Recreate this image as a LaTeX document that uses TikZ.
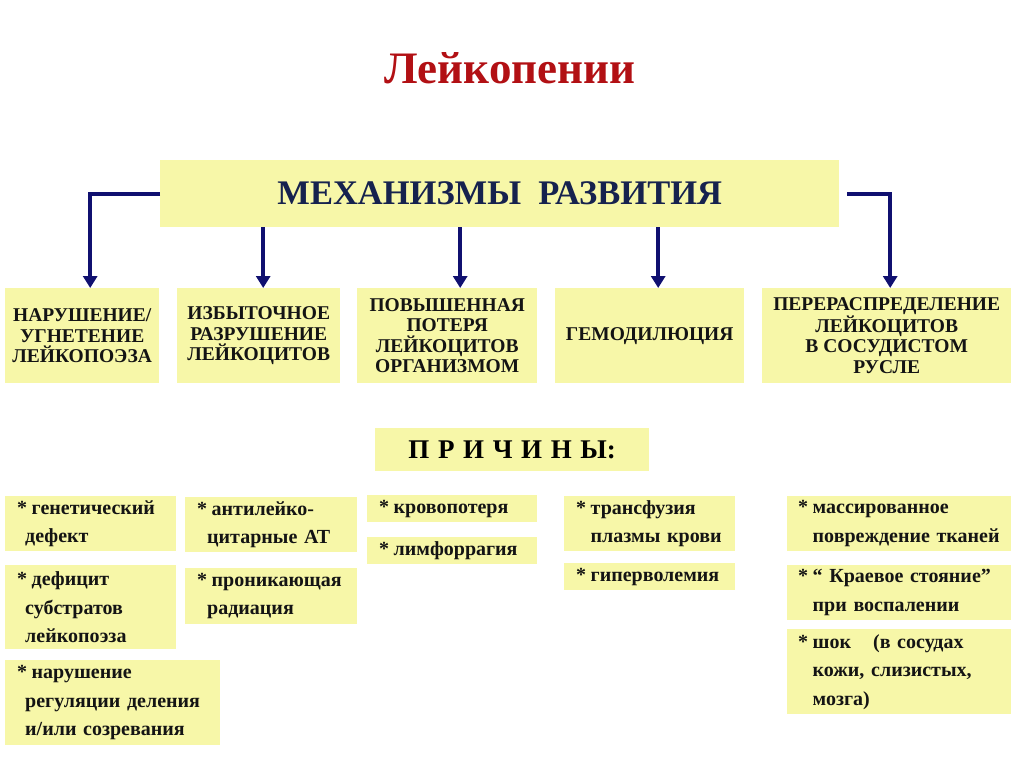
\documentclass[tikz,border=0pt]{standalone}
\usepackage{fontspec}
\setmainfont{Liberation Serif}
\usetikzlibrary{arrows.meta}
\definecolor{boxfill}{RGB}{247,247,168}
\definecolor{navy}{RGB}{16,16,112}
\definecolor{headtext}{RGB}{22,34,78}
\definecolor{titlered}{RGB}{178,16,20}
\definecolor{txt}{RGB}{20,20,20}
\tikzset{
  box/.style={fill=boxfill, draw=none, inner sep=0pt, anchor=north west},
  mech/.style={box, align=center, text=txt,
    font=\fontsize{19.5}{20.5}\selectfont\bfseries},
  cause/.style={box, align=left, text=txt, inner xsep=12pt,
    font=\fontsize{20}{28.5}\selectfont\bfseries},
  arr/.style={draw=navy, line width=4.2pt,
    -{Triangle[width=14pt,length=12pt]}},
}
\newcommand{\st}{*\hspace{4.5pt}}
\newcommand{\ind}{\phantom{*}\hspace{4.5pt}}
\newcommand{\indA}{\hspace{8pt}}
\newcommand{\indB}{\hspace{10pt}}
\newcommand{\ls}{\hspace{8.6pt}}
\begin{document}
\begin{tikzpicture}[x=1pt,y=-1pt]
\useasboundingbox[fill=white] (0,0) rectangle (1024,767);

\node[text=titlered, font=\fontsize{45}{45}\selectfont\bfseries] (title) at (510,68) {Лейкопении};

\node[box, minimum width=679pt, minimum height=67pt, text=headtext,
  font=\fontsize{34.5}{34.5}\selectfont\bfseries] (main) at (160,160) {МЕХАНИЗМЫ\ \ РАЗВИТИЯ};

% mechanism boxes
\node[mech, minimum width=154pt, minimum height=95pt] (m1) at (5,288)
  {НАРУШЕНИЕ/\\УГНЕТЕНИЕ\\ЛЕЙКОПОЭЗА};
\node[mech, minimum width=163pt, minimum height=95pt] (m2) at (177,288)
  {ИЗБЫТОЧНОЕ\\РАЗРУШЕНИЕ\\ЛЕЙКОЦИТОВ};
\node[mech, minimum width=180pt, minimum height=95pt] (m3) at (357,288)
  {ПОВЫШЕННАЯ\\ПОТЕРЯ\\ЛЕЙКОЦИТОВ\\ОРГАНИЗМОМ};
\node[mech, minimum width=189pt, minimum height=95pt] (m4) at (555,288)
  {ГЕМОДИЛЮЦИЯ};
\node[mech, minimum width=249pt, minimum height=95pt] (m5) at (762,288)
  {ПЕРЕРАСПРЕДЕЛЕНИЕ\\ЛЕЙКОЦИТОВ\\В СОСУДИСТОМ\\РУСЛЕ};

% arrows
\coordinate (a1) at ([xshift=8pt]m1.north);
\coordinate (a2) at ([xshift=4.5pt]m2.north);
\coordinate (a3) at ([xshift=13pt]m3.north);
\coordinate (a4) at ([xshift=8.5pt]m4.north);
\coordinate (a5) at ([xshift=3.5pt]m5.north);
\draw[arr] (main.west) -| (a1);
\draw[arr] (main.south -| a2) -- (a2);
\draw[arr] (main.south -| a3) -- (a3);
\draw[arr] (main.south -| a4) -- (a4);
\draw[arr] ([xshift=8pt]main.east) -| (a5);

% causes header
\node[box, minimum width=274pt, minimum height=43pt, text=black,
  font=\fontsize{27}{27}\selectfont\bfseries] (causes) at (375,428)
  {П\ls Р\ls И\ls Ч\ls И\ls Н\ls Ы:};

% cause boxes
\node[cause, text width=147pt, minimum height=55pt] (c1a) at (5,496)
  {\st генетический\\\indA дефект};
\node[cause, text width=147pt, minimum height=84pt] (c1b) at (5,565)
  {\st дефицит\\\indA субстратов\\\indA лейкопоэза};
\node[cause, text width=191pt, minimum height=85pt] (c1c) at (5,660)
  {\st нарушение\\\indA регуляции~деления\\\indA и/или~созревания};
\node[cause, text width=148pt, minimum height=55pt] (c2a) at (185,497)
  {\st антилейко-\\\indB цитарные~АТ};
\node[cause, text width=148pt, minimum height=56pt] (c2b) at (185,568)
  {\st проникающая\\\indB радиация};
\node[cause, text width=146pt, minimum height=27pt] (c3a) at (367,495)
  {\st кровопотеря};
\node[cause, text width=146pt, minimum height=27pt] (c3b) at (367,537)
  {\st лимфоррагия};
\node[cause, text width=147pt, minimum height=55pt] (c4a) at (564,496)
  {\st трансфузия\\\ind плазмы~крови};
\node[cause, text width=147pt, minimum height=27pt] (c4b) at (564,563)
  {\st гиперволемия};
\node[cause, inner xsep=11pt, text width=202pt, minimum height=55pt] (c5a) at (787,496)
  {\st массированное\\\ind повреждение~тканей};
\node[cause, inner xsep=11pt, text width=202pt, minimum height=55pt] (c5b) at (787,565)
  {\st “~Краевое~стояние”\\\ind при~воспалении};
\node[cause, inner xsep=11pt, text width=202pt, minimum height=85pt] (c5c) at (787,629)
  {\st шок\hspace{1.1em}(в~сосудах\\\ind кожи,~слизистых,\\\ind мозга)};
\end{tikzpicture}
\end{document}
